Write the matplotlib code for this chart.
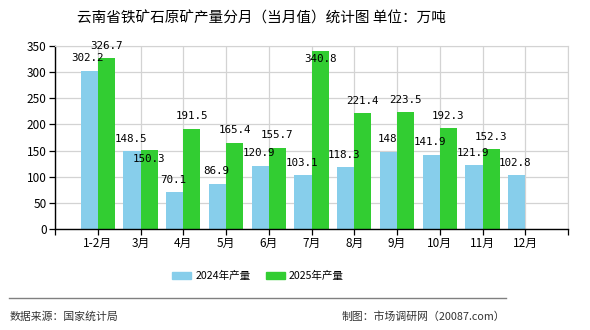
import numpy as np
import matplotlib
matplotlib.use("Agg")
import matplotlib.pyplot as plt
from matplotlib.patches import Patch
from matplotlib.lines import Line2D

plt.rcParams['font.family'] = ['Noto Sans CJK SC', 'DejaVu Sans']

# data
months = ['1-2月', '3月', '4月', '5月', '6月', '7月', '8月', '9月', '10月', '11月', '12月']
prod_2024 = [302.2, 148.5, 70.1, 86.9, 120.9, 103.1, 118.3, 148, 141.9, 121.9, 102.8]
prod_2025 = [326.7, 150.3, 191.5, 165.4, 155.7, 340.8, 221.4, 223.5, 192.3, 152.3, None]
yticks = [0, 50, 100, 150, 200, 250, 300, 350]

blue = '#87CEEB'
green = '#32CD32'

fig = plt.figure(figsize=(5.9, 3.3), dpi=100)
ax = fig.add_axes([55/590, 1 - 229/330, 513/590, 183/330])

x = np.arange(1, len(months) + 1)
w = 0.4
ax.bar(x - w/2, prod_2024, width=w, color=blue, zorder=2)
x25 = [xi for xi, v in zip(x, prod_2025) if v is not None]
v25 = [v for v in prod_2025 if v is not None]
ax.bar(np.array(x25) + w/2, v25, width=w, color=green, zorder=2)

ax.set_xlim(0, 12)
ax.set_ylim(0, 350)
ax.set_yticks(yticks)
ax.set_xticks(range(0, 13))
ax.set_xticklabels([''] + months + [''])

ax.grid(True, color='#d3d3d3', linewidth=0.9, zorder=0)
for s in ['top', 'right']:
    ax.spines[s].set_color('#d3d3d3')
for s in ['left', 'bottom']:
    ax.spines[s].set_color('black')
    ax.spines[s].set_linewidth(1.0)
ax.tick_params(axis='both', direction='out', length=4, width=0.9, labelsize=8.5, pad=2)


def fmt(v):
    return ('%g' % v)


# value labels
ymax = 350
lab_font = dict(fontsize=7.8, family=['DejaVu Sans Mono'])
for xi, v in zip(x, prod_2024):
    ax.annotate(fmt(v), (xi - w/2, v), xytext=(-1, 9), textcoords='offset points',
                ha='center', va='center', zorder=3, annotation_clip=False, **lab_font)
for xi, v, vb in zip(x, prod_2025, prod_2024):
    if v is None:
        continue
    inside = v + 12 > ymax or abs(v - vb) < 10
    dy = -6 if inside else 9
    ax.annotate(fmt(v), (xi + w/2, v), xytext=(0, dy), textcoords='offset points',
                ha='center', va='center', zorder=3, annotation_clip=False, **lab_font)

fig.text(261/590, 1 - 18/330, '云南省铁矿石原矿产量分月（当月值）统计图 单位：万吨',
         ha='center', va='center', fontsize=10.5)

handles = [Patch(color=blue, label='2024年产量'), Patch(color=green, label='2025年产量')]
fig.legend(handles=handles, loc='center', bbox_to_anchor=(258/590, 1 - 276/330), ncol=2,
           frameon=False, fontsize=7.6, handlelength=1.8, handleheight=0.7,
           columnspacing=1.4, handletextpad=0.4)

fig.add_artist(Line2D([9/590, 506/590], [1 - 298/330, 1 - 298/330], color='#808080', linewidth=1.0))
fig.text(10/590, 1 - 317/330, '数据来源：国家统计局', ha='left', va='center', fontsize=7.8, color='#333333')
fig.text(505/590, 1 - 317/330, '制图：市场调研网（20087.com）', ha='right', va='center', fontsize=7.8, color='#333333')

fig.savefig('out.png', dpi=100)
